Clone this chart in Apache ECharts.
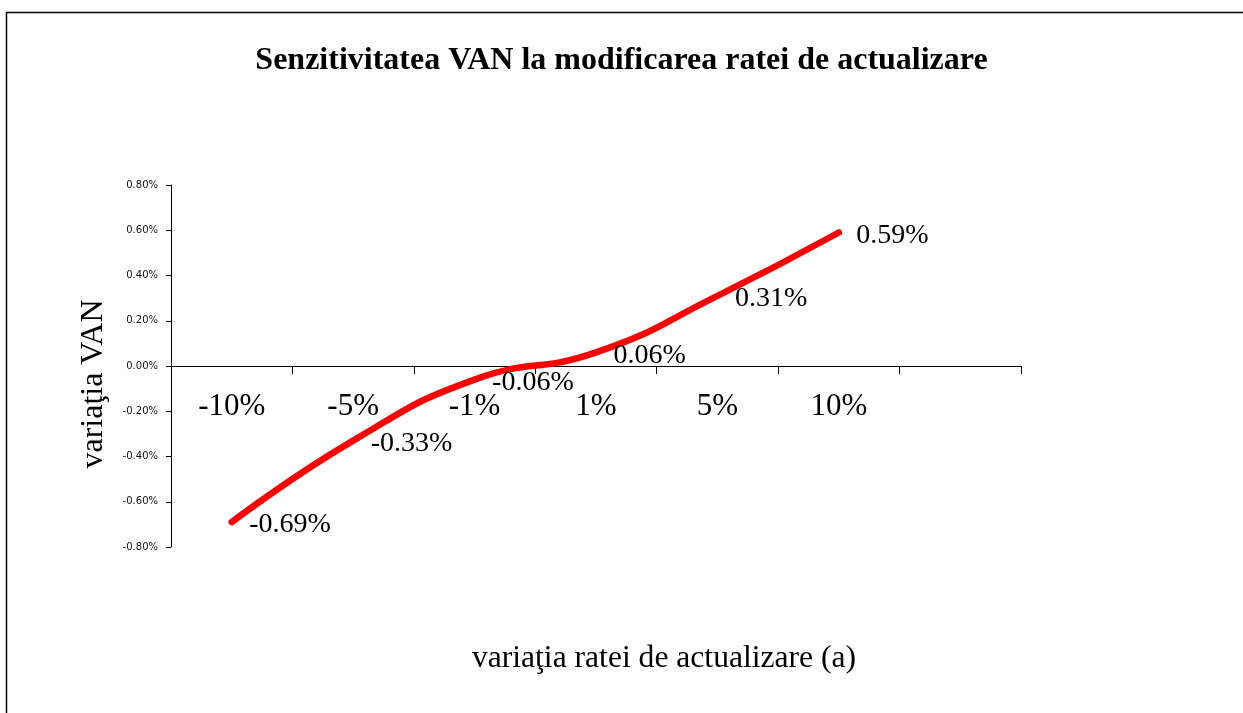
<!DOCTYPE html>
<html>
<head>
<meta charset="utf-8">
<script src="https://cdn.jsdelivr.net/npm/echarts@6/dist/echarts.min.js"></script>
<style>
html,body{margin:0;padding:0;background:#fff;}
#c{width:1243px;height:713px;}
</style>
</head>
<body>
<div id="c"></div>
<script>
const categories = ['-10%', '-5%', '-1%', '1%', '5%', '10%', ''];
const vanChange = [-0.69, -0.33, -0.06, 0.06, 0.31, 0.59];
const titleText = 'Senzitivitatea VAN la modificarea ratei de actualizare';
const yTitle = 'variaţia VAN';
const xTitle = 'variaţia ratei de actualizare (a)';

const serif = '"Liberation Serif", "Times New Roman", serif';
const chart = echarts.init(document.getElementById('c'));
chart.setOption({
  animation: false,
  backgroundColor: '#fff',
  title: {
    text: titleText,
    left: 'center',
    top: 40,
    textStyle: { fontFamily: serif, fontWeight: 'bold', fontSize: 32, color: '#000' }
  },
  grid: { left: 171, top: 185, width: 850, height: 362, containLabel: false },
  xAxis: {
    type: 'category',
    data: categories,
    boundaryGap: true,
    position: 'bottom',
    offset: -181,
    axisLine: { onZero: false, lineStyle: { color: '#000', width: 1 } },
    axisTick: { show: true, length: 8, alignWithLabel: false, lineStyle: { color: '#000' } },
    axisLabel: { fontFamily: serif, fontSize: 31, color: '#000', margin: 25 },
    splitLine: { show: false }
  },
  yAxis: {
    type: 'value',
    min: -0.8,
    max: 0.8,
    interval: 0.2,
    axisLine: { show: true, lineStyle: { color: '#000', width: 1 } },
    axisTick: { show: true, length: 5, lineStyle: { color: '#000' } },
    axisLabel: {
      fontFamily: '"DejaVu Sans", Tahoma, sans-serif', fontSize: 10, color: '#111', margin: 13,
      formatter: v => v.toFixed(2) + '%'
    },
    splitLine: { show: false }
  },
  graphic: [
    {
      type: 'rect', x: 0, y: 0, z: -1,
      shape: { x: 6.5, y: 12.5, width: 1400, height: 900 },
      style: { fill: 'none', stroke: '#000', lineWidth: 1.5 }
    },
    {
      type: 'text', x: 94, y: 384, rotation: Math.PI / 2,
      style: { text: yTitle, font: '32px ' + serif, fill: '#000', align: 'center', verticalAlign: 'middle' }
    },
    {
      type: 'text', x: 664, y: 659,
      style: { text: xTitle, font: '31.6px ' + serif, fill: '#000', align: 'center', verticalAlign: 'middle' }
    }
  ],
  series: [{
    type: 'line',
    data: vanChange,
    smooth: 0.5,
    symbol: 'circle',
    symbolSize: 1,
    itemStyle: { color: '#ff0000' },
    lineStyle: { color: '#ff0000', width: 6.5, cap: 'round', join: 'round' },
    label: {
      show: true,
      position: 'right',
      distance: 17,
      offset: [0, 3],
      fontFamily: serif,
      fontSize: 28,
      color: '#000',
      formatter: p => p.value.toFixed(2) + '%'
    }
  }]
});
</script>
</body>
</html>
